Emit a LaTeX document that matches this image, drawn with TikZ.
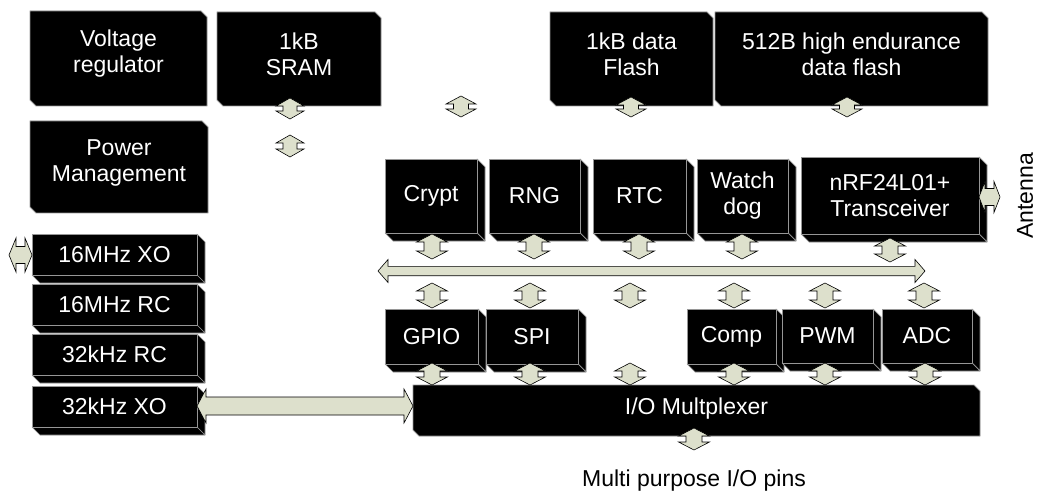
\documentclass[tikz,border=0pt]{standalone}
\usepackage{fontspec}
\setmainfont{Liberation Sans}
\usetikzlibrary{fit}
\definecolor{arrfill}{RGB}{221,224,204}
\definecolor{edgegray}{RGB}{150,150,150}
\tikzset{
  blockarrow/.style={fill=arrfill, draw=black, line width=0.6pt, line join=miter},
  bevel/.style={fill=black, draw=edgegray, line width=0.8pt},
  cubeface/.style={fill=black, draw=edgegray, line width=0.7pt, line join=bevel},
  lbl/.style={text=white, font=\fontsize{23}{26}\selectfont, align=center, inner sep=0pt},
  plain/.style={text=black, font=\fontsize{23}{26}\selectfont, inner sep=0pt},
  frame/.style={inner sep=0pt, outer sep=0pt},
}
% vertical double block arrow: x, ytop, ybottom, head half width, shaft half width, head length
\newcommand\VArrow[6]{%
  \draw[blockarrow] (#1,#2) -- ({#1+#4},{#2+#6}) -- ({#1+#5},{#2+#6}) -- ({#1+#5},{#3-#6})
    -- ({#1+#4},{#3-#6}) -- (#1,#3) -- ({#1-#4},{#3-#6}) -- ({#1-#5},{#3-#6})
    -- ({#1-#5},{#2+#6}) -- ({#1-#4},{#2+#6}) -- cycle;}
% horizontal double block arrow: y, xleft, xright, head half height, shaft half height, head length
\newcommand\HArrow[6]{%
  \draw[blockarrow] (#2,#1) -- ({#2+#6},{#1-#4}) -- ({#2+#6},{#1-#5}) -- ({#3-#6},{#1-#5})
    -- ({#3-#6},{#1-#4}) -- (#3,#1) -- ({#3-#6},{#1+#4}) -- ({#3-#6},{#1+#5})
    -- ({#2+#6},{#1+#5}) -- ({#2+#6},{#1+#4}) -- cycle;}
% bevelled box: name, x1, y1, x2, y2, text, text raise
\newcommand\BevBox[7]{%
  \node[fit={(#2,#3) (#4,#5)}, frame] (#1) {};
  \draw[bevel] (#1.north west) -- ([xshift=-6pt]#1.north east) -- ([yshift=-6pt]#1.north east)
    -- (#1.south east) -- ([xshift=6pt]#1.south west) -- ([yshift=6pt]#1.south west) -- cycle;
  \node[lbl] (#1-t) at ([yshift=#7]#1.center) {#6};}
% 3D box: name, x1, y1, x2, y2, text
\newcommand\CubeBox[6]{%
  \node[fit={(#2,#3) (#4,#5)}, frame] (#1) {};
  \draw[cubeface] (#1.north east) -- ++(8,8) -- ([shift={(8,8)}]#1.south east) -- (#1.south east) -- cycle;
  \draw[cubeface] (#1.south west) -- (#1.south east) -- ([shift={(8,8)}]#1.south east) -- ([shift={(8,8)}]#1.south west) -- cycle;
  \draw[cubeface] (#1.north west) rectangle (#1.south east);
  \node[lbl] (#1-t) at (#1.center) {#6};}
\begin{document}
\begin{tikzpicture}[x=1pt, y=-1pt]
\useasboundingbox (0,0) rectangle (1040,494);
% top row
\BevBox{volt}{30}{11}{207}{106}{Voltage\\regulator}{5pt}
\BevBox{pm}{30}{121}{208}{213}{Power\\Management}{4pt}
\BevBox{sram}{217}{12}{381}{106}{1kB\\SRAM}{5pt}
\BevBox{flash}{550}{12}{713}{106}{1kB data\\Flash}{5pt}
\BevBox{hef}{715}{12}{988}{106}{512B high endurance\\data flash}{5pt}
% middle row
\CubeBox{crypt}{385}{159}{477}{233}{Crypt}
\CubeBox{rng}{489}{159}{580}{233}{RNG}
\CubeBox{rtc}{593}{159}{686}{233}{RTC}
\CubeBox{wdog}{697}{159}{788}{233}{Watch\\dog}
\CubeBox{nrf}{801}{157}{979}{234}{nRF24L01+\\Transceiver}
% clocks
\CubeBox{xo16}{32}{234}{197}{275}{16MHz XO}
\CubeBox{rc16}{32}{284}{197}{325}{16MHz RC}
\CubeBox{rc32}{32}{334}{197}{375}{32kHz RC}
\CubeBox{xo32}{32}{386}{197}{427}{32kHz XO}
% bottom row
\CubeBox{gpio}{385}{309}{478}{364}{GPIO}
\CubeBox{spi}{486}{309}{578}{364}{SPI}
\CubeBox{comp}{687}{309}{776}{364}{Comp}
\CubeBox{pwm}{782}{309}{873}{363}{PWM}
\CubeBox{adc}{882}{309}{972}{363}{ADC}
% multiplexer
\BevBox{mux}{413}{385}{980}{436}{I/O Multplexer}{2pt}
% texts
\node[plain] (pins) at (694,481) {Multi purpose I/O pins};
\node[plain, rotate=90] (ant) at (1025,196) {Antenna};
% arrows: top area
\VArrow{290}{98}{119}{14}{7}{8}
\VArrow{290}{135}{157}{14}{7}{8}
\VArrow{461}{96}{117}{15}{7.5}{8}
\VArrow{631}{97}{117}{15}{7.5}{8}
\VArrow{847}{97}{117}{15}{7.5}{8}
% middle row to bus
\VArrow{432}{234}{259}{15.5}{8}{8}
\VArrow{534}{234}{259}{15.5}{8}{8}
\VArrow{639}{234}{259}{15.5}{8}{8}
\VArrow{742}{234}{259}{15.5}{8}{8}
\VArrow{890}{238}{262}{15.5}{8}{8}
% bus
\HArrow{271}{378}{925}{11.5}{4.7}{10}
% bus to bottom row
\VArrow{432}{283}{308}{15.5}{8}{8}
\VArrow{530}{283}{308}{15.5}{8}{8}
\VArrow{630}{283}{308}{15.5}{8}{8}
\VArrow{734}{283}{308}{15.5}{8}{8}
\VArrow{825}{283}{308}{15.5}{8}{8}
\VArrow{924}{283}{308}{15.5}{8}{8}
% bottom row to mux
\VArrow{432}{363}{385}{15.5}{8}{8}
\VArrow{530}{363}{385}{15.5}{8}{8}
\VArrow{630}{363}{385}{15.5}{8}{8}
\VArrow{734}{363}{385}{15.5}{8}{8}
\VArrow{825}{363}{385}{15.5}{8}{8}
\VArrow{925}{363}{385}{15.5}{8}{8}
% mux to pins
\VArrow{694}{428}{450}{15.5}{8}{8}
% side arrows
\HArrow{255}{9}{32}{17}{8.5}{7}
\HArrow{406}{197}{413}{17}{9}{9}
\HArrow{197}{979}{1000}{15.5}{8.5}{6}
\end{tikzpicture}
\end{document}
